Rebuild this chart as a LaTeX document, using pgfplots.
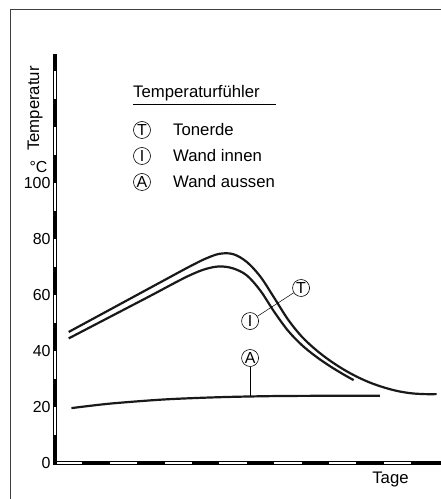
\documentclass[border=0pt]{standalone}
\usepackage{fontspec}
\setmainfont{Liberation Sans}
\usepackage{pgfplots}
\pgfplotsset{compat=1.18}
\newcommand{\fs}{\fontsize{16.8}{18}\selectfont}
\newcommand{\fc}{\fontsize{16}{18}\selectfont}
\begin{document}
\begin{tikzpicture}
\useasboundingbox (0bp,0bp) rectangle (441bp,499bp);
\draw[line width=0.9bp, black!75] (10bp,0bp) -- (10bp,490bp) -- (445bp,490bp);
\begin{axis}[
 at={(55bp,36bp)}, anchor=south west, scale only axis,
 width=383.6bp, height=408.8bp,
 xmin=0,xmax=14,ymin=0,ymax=146,
 axis line style={draw=none},
 xtick=\empty, ytick={0,20,40,60,80,100},
 major tick length=0pt,
 yticklabel style={font=\fc, xshift=-1bp},
 /pgf/number format/assume math mode=true,
 clip=false, unbounded coords=jump,
]
% y axis bar
\addplot[black, line width=4.2bp, forget plot] coordinates {(0,-0.8) (0,146)};
\addplot[white, line width=2.4bp, forget plot] coordinates {(0,0.5) (0,145.7)};
\addplot[black, line width=4.2bp, forget plot] coordinates {(0,0) (0,10) (0,nan) (0,20) (0,30) (0,nan) (0,40) (0,50) (0,nan) (0,60) (0,70) (0,nan) (0,80) (0,90) (0,nan) (0,100) (0,110) (0,nan) (0,120) (0,130) (0,nan) (0,140) (0,146)};
% x axis bar
\addplot[black, line width=4.2bp, forget plot] coordinates {(-0.07,0) (14.1,0)};
\addplot[white, line width=2.4bp, forget plot] coordinates {(0.07,0) (14.1,0)};
\addplot[black, line width=4.2bp, forget plot] coordinates {(1,0) (2,0) (nan,0) (3,0) (4,0) (nan,0) (5,0) (6,0) (nan,0) (7,0) (8,0) (nan,0) (9,0) (10,0) (nan,0) (11,0) (12,0) (nan,0) (13,0) (14.1,0)};
% T (Tonerde)
\addplot[black!90, line width=2.2bp, smooth, tension=0.55] coordinates {
(0.5,46.8) (1.5,52.1) (2.5,57.4) (3.5,62.7) (4.5,68.0) (5.0,70.6) (5.5,73.0) (6.0,74.7) (6.5,74.6) (7.0,71.8) (7.5,66.5) (8.0,59.0) (8.5,51.3) (9.0,45.2) (9.5,40.6) (10.0,36.8) (10.5,33.6) (11.0,30.9) (11.5,28.7) (12.0,27.0) (12.5,25.7) (13.0,24.9) (13.5,24.6) (13.93,24.6)};
% I (Wand innen)
\addplot[black!90, line width=2.2bp, smooth, tension=0.55] coordinates {
(0.5,44.5) (1.5,49.6) (2.5,54.7) (3.5,59.8) (4.5,65.0) (5.0,67.4) (5.5,69.3) (6.0,70.2) (6.5,69.5) (7.0,67.0) (7.5,61.5) (8.0,54.0) (8.5,47.3) (9.0,42.2) (9.5,38.2) (10.0,34.8) (10.5,31.8) (10.9,29.6)};
% A (Wand aussen)
\addplot[black!90, line width=2.2bp, smooth, tension=0.5] coordinates {
(0.6,19.6) (2,21.2) (4,22.7) (6,23.5) (8,23.9) (10,24.0) (11.86,24.0)};
\node[draw, circle, inner sep=0pt, minimum size=17bp, line width=0.6bp, font=\fc] (Tc) at (axis cs:8.98,62.5) {T};
\node[draw, circle, inner sep=0pt, minimum size=17bp, line width=0.6bp, font=\fc] (Ic) at (axis cs:7.12,50.7) {I};
\node[draw, circle, inner sep=0pt, minimum size=17bp, line width=0.6bp, font=\fc] (Ac) at (axis cs:7.12,37.5) {A};
\draw[line width=0.5bp] (Ic) -- (Tc);
\draw[line width=0.5bp] (Ac.south) -- (axis cs:7.12,24.0);
\end{axis}
% legend
\node[anchor=base west, inner sep=0pt, font=\fs] at (133bp,401bp) {Temperaturfühler};
\draw[line width=0.8bp] (133bp,395bp) -- (276bp,395bp);
\foreach \y/\l/\t in {369/T/Tonerde, 343/I/Wand innen, 317/A/Wand aussen}{
  \node[draw, circle, inner sep=0pt, minimum size=17bp, line width=0.6bp, font=\fc] at (142bp,\y bp) {\l};
  \node[anchor=west, inner sep=0pt, font=\fs] at (173bp,\y bp) {\t};
}
\node[rotate=90, inner sep=0pt, font=\fs] at (35bp,390.5bp) {Temperatur};
\node[inner sep=0pt, font=\fc] at (38.5bp,332bp) {°C};
\node[inner sep=0pt, font=\fs] at (390.5bp,20bp) {Tage};
\end{tikzpicture}
\end{document}
